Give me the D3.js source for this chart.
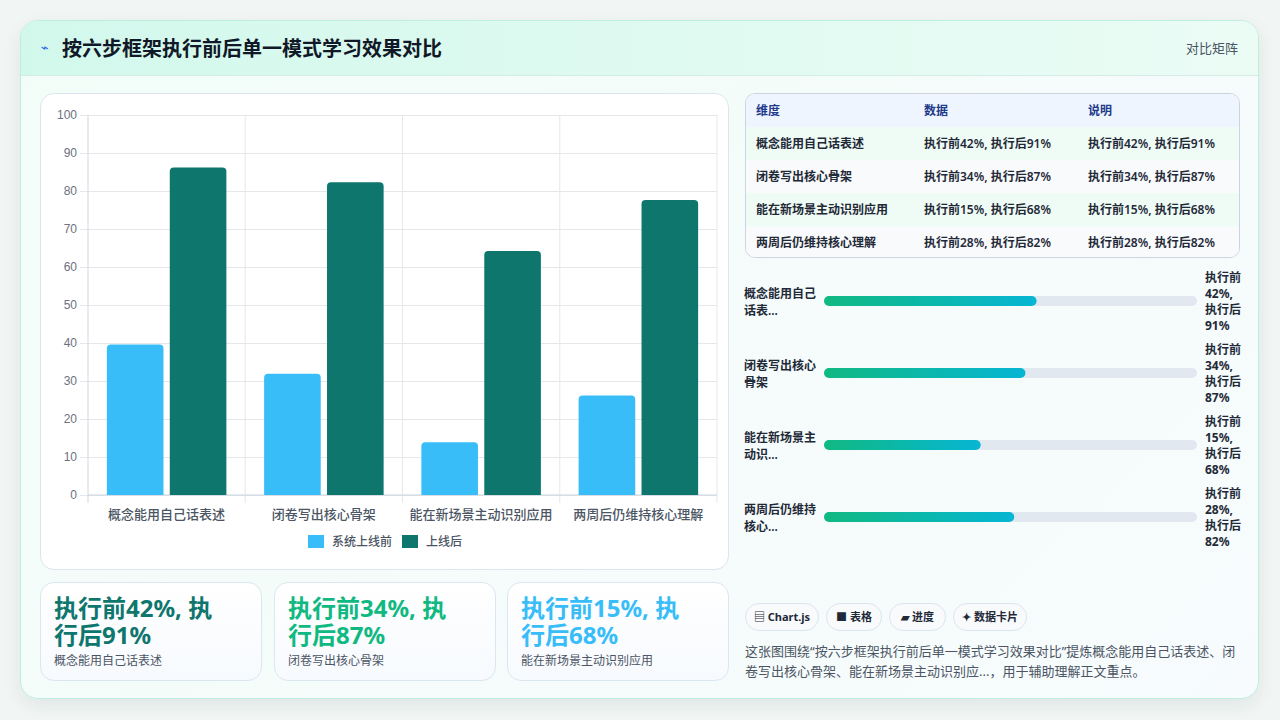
<!DOCTYPE html>
<html>
<head>
<meta charset="utf-8">
<script src="https://cdn.jsdelivr.net/npm/d3@7"></script>
<style>
  body { margin: 0; width: 1280px; height: 720px; overflow: hidden; background: #f1f5f4;
         font-family: "Noto Sans", "Noto Sans CJK SC", sans-serif; color: #1f2937; }
  .abs { position: absolute; }
  .card { left: 20px; top: 20px; width: 1237px; height: 677px; border: 1px solid #bdeee0; border-radius: 18px;
          background: linear-gradient(135deg, #f2fdf8, #f7fbfd); box-shadow: 0 6px 18px rgba(20, 70, 60, .08); overflow: hidden; }
  .header { left: 0; top: 0; width: 1237px; height: 54px; background: linear-gradient(90deg, #d2f8ec, #ebfcf5);
            border-bottom: 1px solid #d3ede6; }
  .title { left: 62px; top: 35px; font-size: 20px; font-weight: 700; color: #111827; line-height: 28px; }
  .icon { left: 41px; top: 38px; font-size: 13px; color: #2563eb; font-family: "DejaVu Sans"; line-height: 20px; }
  .tag { right: 42px; top: 38px; font-size: 13px; color: #4b5563; line-height: 20px; }
  .panel { left: 40px; top: 93px; width: 687px; height: 475px; background: #fff; border: 1px solid #dbe6ee; border-radius: 14px; }
  .table { left: 745px; top: 93px; width: 493px; height: 163px; border: 1px solid #cbd5e1; border-radius: 10px; overflow: hidden; background: #fff; }
  .row { position: absolute; left: 0; width: 493px; height: 33px; border-bottom: 1px solid #e2e8f0; font-size: 12px; line-height: 33px; }
  .row div { position: absolute; top: 0; }
  .kcard { top: 582px; height: 97px; border: 1px solid #dbe7f0; border-radius: 14px; background: linear-gradient(180deg, #ffffff, #f7fafe); }
  .kbig { position: absolute; left: 13px; top: 11px; font-size: 24px; font-weight: 700; line-height: 27px; width: 172px; }
  .ksub { position: absolute; left: 13px; top: 69px; font-size: 12px; color: #4b5563; line-height: 18px; }
  .pill { top: 603px; height: 26px; border: 1px solid #dbe6ee; border-radius: 14px; background: #f8fafc;
          font-size: 11px; font-weight: 700; line-height: 26px; text-align: center; color: #1f2937; }
  .desc { left: 745px; top: 641px; width: 497px; font-size: 13px; line-height: 20px; color: #4b5563; }
</style>
</head>
<body>
<div class="abs card"><div class="abs header"></div></div>
<div class="abs icon">⌁</div>
<div class="abs title">按六步框架执行前后单一模式学习效果对比</div>
<div class="abs tag">对比矩阵</div>
<div class="abs panel"></div>
<svg id="chart" class="abs" style="left:40px;top:93px" width="689" height="477"></svg>
<div id="table" class="abs table"></div>
<svg id="progress" class="abs" style="left:740px;top:265px" width="520" height="300"></svg>
<div id="cards"></div>
<div id="pills"></div>
<div class="abs desc">这张图围绕“按六步框架执行前后单一模式学习效果对比”提炼概念能用自己话表述、闭卷写出核心骨架、能在新场景主动识别应...，用于辅助理解正文重点。</div>

<script>
// data
const categories = ["概念能用自己话表述", "闭卷写出核心骨架", "能在新场景主动识别应用", "两周后仍维持核心理解"];
const seriesNames = ["系统上线前", "上线后"];
const seriesColors = ["#38bdf8", "#0f766e"];
const beforeBars = [39.6, 31.9, 13.9, 26.2];
const afterBars = [86.2, 82.3, 64.2, 77.6];
const yTicks = [0, 10, 20, 30, 40, 50, 60, 70, 80, 90, 100];

const tableHeader = ["维度", "数据", "说明"];
const tableBefore = [42, 34, 15, 28];
const tableAfter = [91, 87, 68, 82];
const progressValues = [57, 54, 42, 51];

const cardColors = ["#0f766e", "#10b981", "#38bdf8"];
const pillLabels = ["▤ Chart.js", "■ 表格", "▰ 进度", "✦ 数据卡片"];
const pillX = [745, 826, 889, 953];
const pillW = [72, 54, 55, 72];

const valueText = (i) => "执行前" + tableBefore[i] + "%, 执行后" + tableAfter[i] + "%";

// ---------- grouped bar chart ----------
const MARGINS = {left: 48, top: 22};
const VIS_WIDTH = 629;
const VIS_HEIGHT = 380;

const CHART = d3.select("#chart")
  .append("g")
    .attr("transform", "translate(" + MARGINS.left + "," + MARGINS.top + ")");

const X_SCALE = d3.scaleBand().domain(categories).range([0, VIS_WIDTH]);
const X_SUB = d3.scaleBand().domain(seriesNames)
  .range([X_SCALE.bandwidth() * 0.1, X_SCALE.bandwidth() * 0.9]);
const Y_SCALE = d3.scaleLinear().domain([0, 100]).range([VIS_HEIGHT, 0]);

// horizontal gridlines + y labels
CHART.append("g")
    .call(d3.axisLeft(Y_SCALE).tickValues(yTicks).tickSize(-VIS_WIDTH - 8).tickPadding(3))
    .attr("transform", "translate(-8,0)")
    .call(g => g.select(".domain").remove())
    .call(g => g.selectAll("line").attr("stroke", "#e5e7eb"))
    .call(g => g.selectAll("text").attr("fill", "#6b7280")
      .attr("font-family", "Liberation Sans, Arial").attr("font-size", 12));

// vertical gridlines at category edges
const edges = categories.map(c => X_SCALE(c)).concat([VIS_WIDTH]);
CHART.selectAll(".vgrid")
  .data(edges)
  .enter()
  .append("line")
    .attr("x1", d => d).attr("x2", d => d)
    .attr("y1", 0).attr("y2", VIS_HEIGHT + 8)
    .attr("stroke", (d, i) => i === 0 ? "#d1d5db" : "#e5e7eb");

// x axis line
CHART.append("line")
    .attr("x1", 0).attr("x2", VIS_WIDTH)
    .attr("y1", VIS_HEIGHT).attr("y2", VIS_HEIGHT)
    .attr("stroke", "#cbd5e1");

// rounded-top bar
function barPath(x, y, w, h, r) {
  r = Math.min(r, h);
  return "M" + x + "," + (y + h) + "V" + (y + r) + "Q" + x + "," + y + " " + (x + r) + "," + y +
         "H" + (x + w - r) + "Q" + (x + w) + "," + y + " " + (x + w) + "," + (y + r) + "V" + (y + h) + "Z";
}

const barData = [];
categories.forEach((c, i) => {
  barData.push({cat: c, s: seriesNames[0], v: beforeBars[i], color: seriesColors[0]});
  barData.push({cat: c, s: seriesNames[1], v: afterBars[i], color: seriesColors[1]});
});

const BAR_W = X_SUB.bandwidth() * 0.9;
CHART.selectAll(".bar")
  .data(barData)
  .enter()
  .append("path")
    .attr("class", "bar")
    .attr("fill", d => d.color)
    .attr("d", d => barPath(X_SCALE(d.cat) + X_SUB(d.s) + X_SUB.bandwidth() * 0.05,
                            Y_SCALE(d.v), BAR_W, VIS_HEIGHT - Y_SCALE(d.v), 4));

// category labels
CHART.selectAll(".xlab")
  .data(categories)
  .enter()
  .append("text")
    .attr("x", d => X_SCALE(d) + X_SCALE.bandwidth() / 2)
    .attr("y", VIS_HEIGHT + 24)
    .attr("text-anchor", "middle")
    .attr("font-size", 13)
    .attr("font-weight", 500)
    .attr("fill", "#4b5563")
    .text(d => d);

// legend (page x of the swatches)
const legendX = [308, 402];
const LEGEND = CHART.selectAll(".leg")
  .data(seriesNames)
  .enter()
  .append("g")
    .attr("transform", (d, i) => "translate(" + (legendX[i] - 40 - MARGINS.left) + "," + (VIS_HEIGHT + 40) + ")");
LEGEND.append("rect")
    .attr("width", 16).attr("height", 13)
    .attr("fill", (d, i) => seriesColors[i]);
LEGEND.append("text")
    .attr("x", 24).attr("y", 11)
    .attr("font-size", 12)
    .attr("font-weight", 500)
    .attr("fill", "#4b5563")
    .text(d => d);

// ---------- table ----------
const colX = [10, 178, 342];
const TABLE = d3.select("#table");
const header = TABLE.append("div").attr("class", "row")
    .style("top", "0px").style("background", "#eef5ff").style("border-bottom", "1px solid #cbd5e1");
header.selectAll("div")
  .data(tableHeader)
  .enter()
  .append("div")
    .style("left", (d, i) => colX[i] + "px")
    .style("font-weight", 700).style("color", "#1e3a8a")
    .text(d => d);

categories.forEach((c, i) => {
  const row = TABLE.append("div").attr("class", "row")
      .style("top", (33 + i * 33) + "px")
      .style("background", i % 2 === 0 ? "#effcf6" : "#f8fafc");
  row.selectAll("div")
    .data([c, valueText(i), valueText(i)])
    .enter()
    .append("div")
      .style("left", (d, j) => colX[j] + "px")
      .style("font-weight", 600)
      .text(d => d);
});

// ---------- progress rows ----------
const PROG = d3.select("#progress");
const defs = PROG.append("defs");
const grad = defs.append("linearGradient").attr("id", "pg");
grad.append("stop").attr("offset", "0%").attr("stop-color", "#10b981");
grad.append("stop").attr("offset", "100%").attr("stop-color", "#06b6d4");

const P_SCALE = d3.scaleLinear().domain([0, 100]).range([0, 373]);
const rowY = d3.scaleLinear().domain([0, 1]).range([36, 108]);

const prow = PROG.selectAll(".prow")
  .data(categories)
  .enter()
  .append("g")
    .attr("transform", (d, i) => "translate(0," + rowY(i) + ")");

prow.append("rect")
    .attr("x", 84).attr("y", -5)
    .attr("width", P_SCALE(100)).attr("height", 10).attr("rx", 5)
    .attr("fill", "#e2e8f0");
prow.append("rect")
    .attr("x", 84).attr("y", -5)
    .attr("width", (d, i) => P_SCALE(progressValues[i])).attr("height", 10).attr("rx", 5)
    .attr("fill", "url(#pg)");

// label (truncated to 8 chars, 6 chars per line)
prow.append("text")
    .attr("x", 4)
    .attr("font-size", 12).attr("font-weight", 600).attr("fill", "#1f2937")
    .each(function(d) {
      const s = d.length > 8 ? d.slice(0, 8) + "..." : d;
      const lines = [s.slice(0, 6), s.slice(6)];
      d3.select(this).selectAll("tspan")
        .data(lines)
        .enter()
        .append("tspan")
          .attr("x", 4)
          .attr("y", (l, k) => -3 + k * 17)
          .text(l => l);
    });

// value stack
prow.append("text")
    .attr("font-size", 12).attr("font-weight", 700).attr("fill", "#1f2937")
    .each(function(d, i) {
      const lines = ["执行前", tableBefore[i] + "%,", "执行后", tableAfter[i] + "%"];
      d3.select(this).selectAll("tspan")
        .data(lines)
        .enter()
        .append("tspan")
          .attr("x", 465)
          .attr("y", (l, k) => -19 + k * 16)
          .text(l => l);
    });

// ---------- stat cards ----------
const cardX = [40, 274, 507];
const CARDS = d3.select("#cards").selectAll(".kcard")
  .data(categories.slice(0, 3))
  .enter()
  .append("div")
    .attr("class", "abs kcard")
    .style("left", (d, i) => cardX[i] + "px")
    .style("width", "220px");
CARDS.append("div")
    .attr("class", "kbig")
    .style("color", (d, i) => cardColors[i])
    .text((d, i) => valueText(i));
CARDS.append("div")
    .attr("class", "ksub")
    .text(d => d);

// ---------- pills ----------
d3.select("#pills").selectAll(".pill")
  .data(pillLabels)
  .enter()
  .append("div")
    .attr("class", "abs pill")
    .style("left", (d, i) => pillX[i] + "px")
    .style("width", (d, i) => pillW[i] + "px")
    .text(d => d);
</script>
</body>
</html>
